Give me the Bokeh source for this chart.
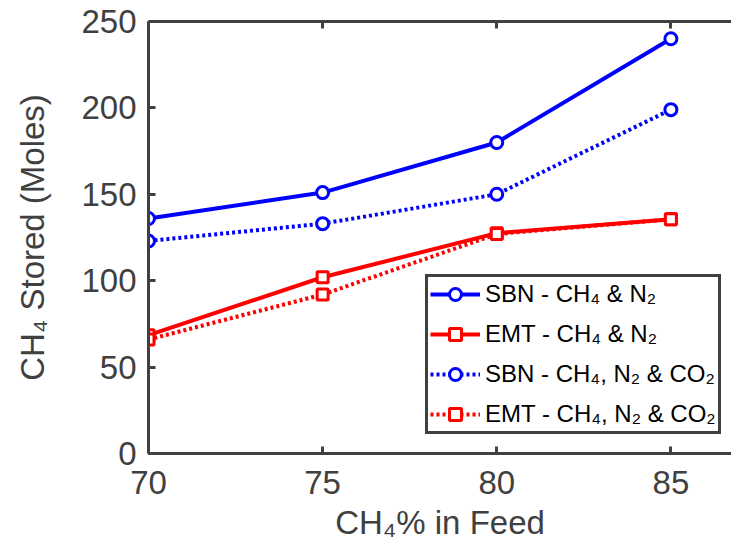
from bokeh.plotting import figure
from bokeh.models import LinearAxis, FixedTicker, Range1d, Legend, LegendItem
from bokeh.embed import file_html
from bokeh.resources import INLINE

# Data
feed = [70, 75, 80, 85]
sbn_ch4_n2 = [136, 151, 180, 240]
emt_ch4_n2 = [68.5, 102, 127.5, 135.5]
sbn_ch4_n2_co2 = [123, 133, 150, 199]
emt_ch4_n2_co2 = [66, 92, 127, 135.5]

x_ticks = [70, 75, 80, 85]
y_ticks = [0, 50, 100, 150, 200, 250]

labels = ["SBN - CH₄ & N₂", "EMT - CH₄ & N₂", "SBN - CH₄, N₂ & CO₂", "EMT - CH₄, N₂ & CO₂"]

GRAY = "#404040"
FONT = "Liberation Sans"

p = figure(width=731, height=556, output_backend="svg", toolbar_location=None,
           x_range=Range1d(70, 86.74), y_range=Range1d(0, 250),
           min_border_left=148, min_border_right=0, min_border_top=21, min_border_bottom=103,
           x_axis_location=None, y_axis_location=None)
p.outline_line_color = None
p.grid.visible = False
p.background_fill_color = "white"
p.border_fill_color = "white"

def style_axis(ax):
    ax.axis_line_color = GRAY
    ax.axis_line_width = 3
    ax.major_tick_line_color = GRAY
    ax.major_tick_line_width = 3
    ax.major_tick_in = 7
    ax.major_tick_out = 0
    ax.minor_tick_line_color = None
    ax.major_label_text_color = GRAY
    ax.major_label_text_font = FONT
    ax.major_label_text_font_size = "33px"
    ax.axis_label_text_color = GRAY
    ax.axis_label_text_font = FONT
    ax.axis_label_text_font_size = "33px"
    ax.axis_label_text_font_style = "normal"

xa = LinearAxis(ticker=FixedTicker(ticks=x_ticks), axis_label="CH₄% in Feed")
style_axis(xa)
xa.major_label_standoff = 17
xa.axis_label_standoff = 7
p.add_layout(xa, "below")

ya = LinearAxis(ticker=FixedTicker(ticks=y_ticks), axis_label="CH₄ Stored (Moles)")
style_axis(ya)
ya.major_label_standoff = 12
ya.axis_label_standoff = 27
p.add_layout(ya, "left")

ta = LinearAxis(ticker=FixedTicker(ticks=x_ticks))
style_axis(ta)
ta.major_label_text_font_size = "1px"
ta.major_label_text_color = None
ta.major_label_standoff = 0
p.add_layout(ta, "above")

series = [
    (sbn_ch4_n2, "blue", "solid", "circle"),
    (emt_ch4_n2, "red", "solid", "square"),
    (sbn_ch4_n2_co2, "blue", "3 3", "circle"),
    (emt_ch4_n2_co2, "red", "3 3", "square"),
]

items = []
for (ys, col, dash, marker), lab in zip(series, labels):
    l = p.line(feed, ys, line_color=col, line_width=4, line_dash=dash)
    if marker == "circle":
        m = p.scatter(feed, ys, marker="circle", size=12, line_color=col, line_width=3, fill_color="white")
    else:
        m = p.scatter(feed, ys, marker="square", size=11, line_color=col, line_width=3, fill_color="white")
    items.append(LegendItem(label=lab, renderers=[l, m]))

legend = Legend(items=items, location=(277, 19))
legend.border_line_color = GRAY
legend.border_line_width = 3
legend.border_line_alpha = 1
legend.background_fill_color = "white"
legend.background_fill_alpha = 1
legend.label_text_font = FONT
legend.label_text_font_size = "24px"
legend.label_text_color = "black"
legend.glyph_width = 50
legend.glyph_height = 30
legend.label_height = 30
legend.label_standoff = 5
legend.spacing = 10
legend.padding = 2
legend.margin = 0
p.add_layout(legend, "center")

open("out.html", "w").write(file_html(p, INLINE))
